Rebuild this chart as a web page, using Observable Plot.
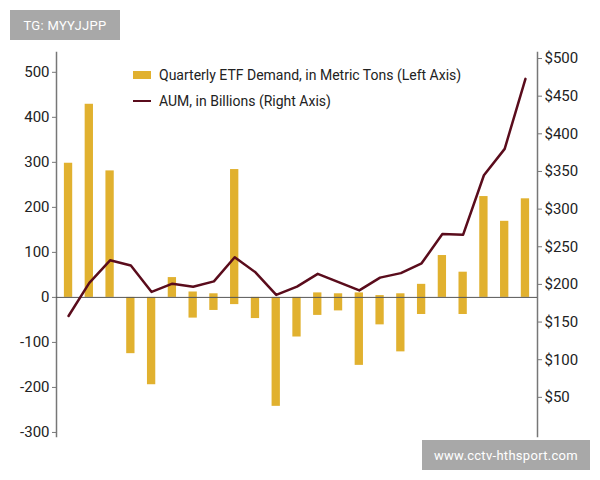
<!DOCTYPE html>
<html>
<head>
<meta charset="utf-8">
<script src="https://cdn.jsdelivr.net/npm/d3@7"></script>
<script src="https://cdn.jsdelivr.net/npm/@observablehq/plot@0.6"></script>
<style>
  html, body { margin: 0; padding: 0; background: #fff; }
  #wrap { position: relative; width: 600px; height: 480px; overflow: hidden; font-family: Roboto, "Liberation Sans", sans-serif; }
  #chart { position: absolute; left: 0; top: 0; }
  .wm { position: absolute; background: #a8a8a8; color: #fff; font-size: 13px; display: flex; align-items: center; justify-content: center; letter-spacing: 0.3px; }
  .legend { position: absolute; left: 133px; font-size: 14px; color: #222; display: flex; align-items: center; white-space: nowrap; }
  .sw-bar { width: 18px; height: 8px; background: #e1b12f; margin-right: 8px; }
  .sw-line { width: 18px; height: 2.5px; background: #5a0c1c; margin-right: 8px; }
</style>
</head>
<body>
<div id="wrap">
  <div id="chart"></div>
  <div class="legend" style="top:67px;"><div class="sw-bar"></div><span>Quarterly ETF Demand, in Metric Tons (Left Axis)</span></div>
  <div class="legend" style="top:93px;"><div class="sw-line"></div><span>AUM, in Billions (Right Axis)</span></div>
  <div class="wm" style="left:10px; top:10px; width:110px; height:30px;">TG: MYYJJPP</div>
  <div class="wm" style="left:422px; top:440px; width:168px; height:30px;">www.cctv-hthsport.com</div>
</div>
<script>
// Quarter index (23 quarters)
const quarters = d3.range(1, 24).map(String);
// Bar top edge (positive demand part), metric tons
const demandHigh = [298, 429, 281, 0, 0, 44, 12, 8, 284, 0, 0, 0, 10, 8, 10, 4, 8, 29, 93, 56, 224, 169, 219];
// Bar bottom edge (negative demand part), metric tons
const demandLow  = [0, 0, 0, -125, -194, 0, -46, -29, -16, -47, -242, -88, -40, -30, -151, -61, -121, -38, 0, -38, 0, 0, 0];
// AUM, billions of dollars
const aum = [158, 202, 232, 225, 190, 201, 197, 204, 236, 216, 186, 197, 214, 203, 192, 209, 215, 228, 267, 266, 345, 380, 473];
// Axis ticks
const leftTicks = [-300, -200, -100, 0, 100, 200, 300, 400, 500];
const rightTicks = [50, 100, 150, 200, 250, 300, 350, 400, 450, 500];
// Axis domains
const leftDomain = [-309, 544];
const rightDomain = [-2, 508];

const data = quarters.map((q, i) => ({q, high: demandHigh[i], low: demandLow[i], aum: aum[i]}));
const toLeft = d3.scaleLinear(rightDomain, leftDomain);

const gold = "#e1b12f";
const maroon = "#5a0c1c";

const chart = Plot.plot({
  width: 600,
  height: 442,
  marginTop: 52,
  marginBottom: 6,
  marginLeft: 56,
  marginRight: 63,
  style: {fontFamily: "Roboto, 'Liberation Sans', sans-serif", fontSize: "15px", color: "#222", background: "transparent"},
  x: {type: "band", domain: quarters, paddingInner: 0.6, paddingOuter: 0.38, round: false, axis: null},
  y: {domain: leftDomain, axis: null},
  marks: [
    Plot.frame({anchor: "left", stroke: "#777", strokeWidth: 1.5}),
    Plot.frame({anchor: "right", stroke: "#777", strokeWidth: 1.5}),
    Plot.barY(data, {x: "q", y1: "low", y2: "high", fill: gold}),
    Plot.ruleY([0], {stroke: "#555", strokeWidth: 1}),
    Plot.line(data, {x: "q", y: d => toLeft(d.aum), stroke: maroon, strokeWidth: 2.5}),
    Plot.axisY(leftTicks, {anchor: "left", tickSize: 4, tickPadding: 3, stroke: "#777", fill: "#222", tickFormat: d => String(d)}),
    Plot.axisY(rightTicks.map(t => toLeft(t)), {anchor: "right", tickSize: 4, tickPadding: 3, stroke: "#777", fill: "#222", tickFormat: d => "$" + Math.round(toLeft.invert(d))})
  ]
});
document.getElementById("chart").appendChild(chart);
</script>
</body>
</html>
